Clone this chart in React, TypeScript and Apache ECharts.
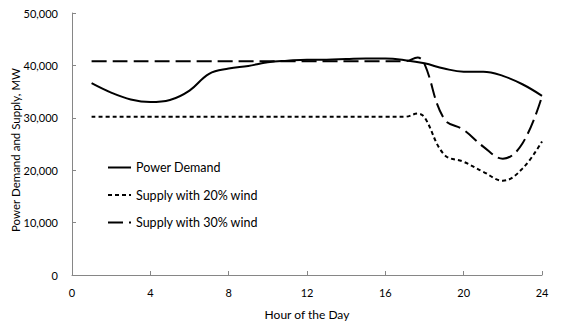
import React, { useEffect, useRef } from "react";
import * as echarts from "echarts";

const demandHours = [1, 2, 3, 4, 5, 6, 7, 8, 9, 10, 11, 12, 13, 14, 15, 16, 17, 18, 19, 20, 21, 22, 23, 24];
const demand = [36600, 34800, 33500, 33000, 33400, 35200, 38400, 39400, 39900, 40600, 40900, 41100, 41100, 41200, 41300, 41300, 41000, 40400, 39400, 38800, 38800, 38000, 36400, 34200];
const supplyHours = [1, 2, 3, 4, 5, 6, 7, 8, 9, 10, 11, 12, 13, 14, 15, 16, 17, 17.65, 18, 19, 20, 21, 22, 23, 24];
const supply20 = [30200, 30200, 30200, 30200, 30200, 30200, 30200, 30200, 30200, 30200, 30200, 30200, 30200, 30200, 30200, 30200, 30200, 30800, 30100, 23000, 21600, 19700, 18000, 20300, 25500];
const supply30 = [40800, 40800, 40800, 40800, 40800, 40800, 40800, 40800, 40800, 40800, 40800, 40800, 40800, 40800, 40800, 40800, 40800, 41500, 40300, 29800, 27700, 24500, 22200, 25100, 34100];
const xTicks = [0, 4, 8, 12, 16, 20, 24];
const seriesNames = ["Power Demand", "Supply with 20% wind", "Supply with 30% wind"];
const yAxisTitle = "Power Demand and Supply, MW";
const xAxisTitle = "Hour of the Day";

const FONT = "Lato, 'Open Sans', sans-serif";

export default function App() {
  const ref = useRef<HTMLDivElement>(null);
  useEffect(() => {
    if (!ref.current) return;
    const chart = echarts.init(ref.current, null, { renderer: "svg" });
    const pair = (xs: number[], arr: number[]) => xs.map((h, i) => [h, arr[i]]);
    chart.setOption({
      animation: false,
      backgroundColor: "#ffffff",
      textStyle: { fontFamily: FONT },
      grid: { left: 72, right: 21, top: 13, bottom: 55 },
      legend: {
        orient: "vertical",
        left: 107,
        top: 161,
        padding: 0,
        itemGap: 14.5,
        itemWidth: 23,
        itemHeight: 14,
        itemStyle: { color: "transparent", borderWidth: 0, opacity: 0 },
        textStyle: { fontFamily: FONT, fontSize: 12.5, color: "#000" },
        data: seriesNames.map((n) => ({ name: n })),
      },
      graphic: [
        {
          type: "text",
          x: 15,
          y: 150,
          rotation: Math.PI / 2,
          style: {
            text: yAxisTitle,
            fontFamily: FONT,
            fontSize: 11.5,
            fill: "#000",
            align: "center",
            verticalAlign: "middle",
          },
        },
      ],
      xAxis: {
        type: "value",
        min: 0,
        max: 24,
        interval: 4,
        name: xAxisTitle,
        nameLocation: "middle",
        nameGap: 33,
        nameTextStyle: { fontFamily: FONT, fontSize: 12, color: "#000" },
        axisLine: { lineStyle: { color: "#868686", width: 1 } },
        axisTick: { inside: true, length: 4, lineStyle: { color: "#868686" } },
        axisLabel: { fontFamily: FONT, fontSize: 11, color: "#000", margin: 12, customValues: xTicks },
        splitLine: { show: false },
      },
      yAxis: {
        type: "value",
        min: 0,
        max: 50000,
        interval: 10000,
        axisLine: { show: true, lineStyle: { color: "#868686", width: 1 } },
        axisTick: { show: true, inside: true, length: 4, lineStyle: { color: "#868686" } },
        axisLabel: {
          fontFamily: FONT,
          fontSize: 11,
          color: "#000",
          margin: 14,
          formatter: (v: number) => v.toLocaleString("en-US"),
        },
        splitLine: { show: false },
      },
      series: [
        {
          name: seriesNames[0],
          type: "line",
          data: pair(demandHours, demand),
          smooth: 0.4,
          symbol: "none",
          lineStyle: { color: "#000", width: 2, type: "solid" },
          itemStyle: { color: "#000" },
        },
        {
          name: seriesNames[1],
          type: "line",
          data: pair(supplyHours, supply20),
          smooth: 0.4,
          symbol: "none",
          lineStyle: { color: "#000", width: 2, type: [4, 3] },
          itemStyle: { color: "#000" },
        },
        {
          name: seriesNames[2],
          type: "line",
          data: pair(supplyHours, supply30),
          smooth: 0.4,
          symbol: "none",
          lineStyle: { color: "#000", width: 2, type: [15, 6] },
          itemStyle: { color: "#000" },
        },
      ],
    });
    return () => chart.dispose();
  }, []);
  return <div ref={ref} style={{ width: 563, height: 330, position: "absolute", left: 0, top: 0 }} />;
}
